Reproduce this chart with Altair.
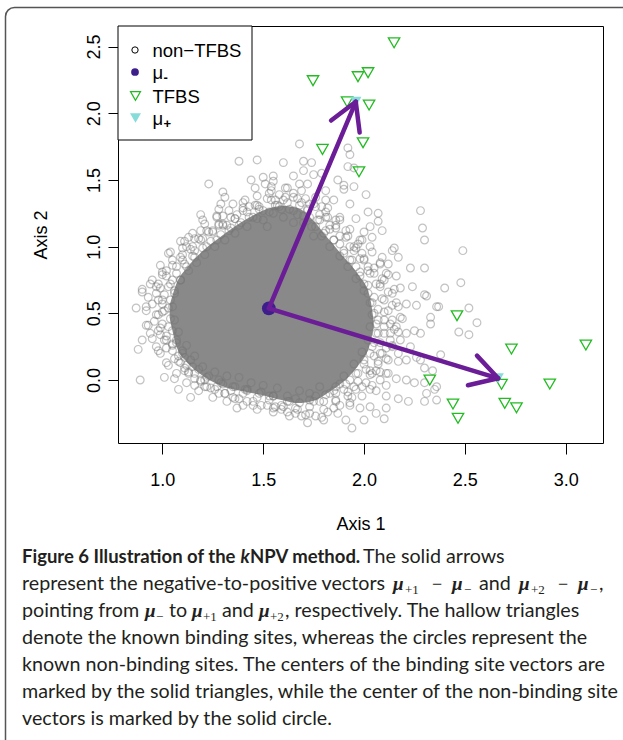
import math
import altair as alt
import pandas as pd

# ---------------- data ----------------
non_x = [1.38,1.47,1.23,1.44,1.50,1.55,1.51,1.46,1.30,1.31,1.29,1.35,1.41,1.28,1.19,1.20,1.27,1.30,1.28,1.32,1.36,1.19,1.23,1.13,1.11,1.18,1.03,1.09,1.12,1.16,1.07,1.02,1.00,0.94,0.90,0.98,0.97,1.05,1.40,1.43,1.47,1.53,1.54,
         0.90,0.87,0.92,0.97,0.92,0.94,0.88,0.90,0.99,0.97,1.03,1.08,0.89,1.01,1.06,1.08,1.14,1.16,1.21,1.26,1.31,1.36,1.37,1.45,1.56,1.13,1.11,1.00,0.98,1.01,1.05,1.11,1.19,1.28,1.35,1.41,1.48,1.53,
         1.68,1.92,1.93,1.60,1.70,1.74,1.70,1.75,1.79,1.92,1.95,1.65,1.68,1.72,1.87,1.90,1.95,1.90,2.01,1.55,1.61,1.81,1.81,1.85,1.93,2.02,2.07,2.28,2.29,2.30,1.96,2.07,2.09,2.03,2.04,2.00,2.15,2.14,2.17,2.09,2.08,2.12,2.23,2.30,2.16,2.24,2.08,2.18,2.30,2.31,2.03,1.98,1.91,1.86,1.81,1.75,1.60,1.65,1.57,2.11,2.03,2.00,1.95,
         2.36,2.21,2.26,2.19,2.33,2.33,2.25,2.28,2.21,2.16,2.10,2.17,2.21,2.30,2.28,2.34,2.35,2.31,2.30,2.36,2.16,2.21,2.25,2.11,2.17,2.22,2.11,2.11,2.03,2.06,2.10,2.00,1.91,1.94,1.79,1.71,1.67,1.60,1.85,1.98,1.93,1.86,1.78,1.73,1.63,2.03,2.08,2.11,2.06,2.12,2.03,1.96,1.90,1.83,1.93,2.14,2.08,2.18,2.13,2.23,2.26,
         2.40,2.52,2.56,2.47,2.52,2.37,2.38,2.30,2.36,2.49,2.48,
         1.50,1.55,1.60,1.63,1.67,1.70,1.73,1.76,1.78,1.80,1.83,1.85,1.88,1.90,1.93,1.96,1.98,2.00,2.02,2.04,2.05,2.06,2.07,2.05,2.03,2.00,1.97,1.52,1.58,1.65,1.72,1.75,1.82,1.86,1.92,1.95,1.99,2.02,2.05,2.08,2.10,2.12,2.10,2.13,2.09,2.07,2.04,2.01,1.95,1.88,1.85,1.78,1.73,1.68,1.62,1.57,1.50,1.44,1.38,1.32,1.26,1.20,1.16,1.12,1.08,1.06,1.05,1.06,1.09,1.12,1.16,1.22,1.27,1.33,1.38,1.43,1.48,1.37,1.30,1.25,1.19,1.14,1.10,1.03,1.01,1.03,1.07,1.10,1.15,1.22,1.30,1.42,1.55,1.66,1.76,1.92,2.06,2.12,2.17,2.15,2.17,2.14,2.10,1.97,1.88,1.79,1.69,1.56,
         1.04,1.06,1.09,1.13,1.17,1.21,1.26,1.31,1.36,1.42,1.47,1.53,1.59,1.65,1.70,1.74,1.79,1.83,1.88,1.92,1.96,2.00,2.03,2.04,2.03,2.02,1.99,1.95,1.90,1.86,1.81,1.75,1.68,1.62,1.55,1.49,1.42,1.36,1.29,1.23,1.18,1.14,1.10,1.07,1.05,1.04,1.03,
         0.98,0.99,1.02,1.05,1.10,1.15,1.20,1.25,1.30,1.36,1.42,1.48,1.54,1.61,1.67,1.73,1.78,1.83,1.88,1.93,1.98,2.02,2.06,2.09,2.10,2.10,2.08,2.05,2.01,1.97,1.92,1.86,1.80,1.73,1.66,1.59,1.52,1.45,1.38,1.31,1.24,1.19,1.13,1.09,1.05,1.02,0.99,0.98,
         1.01,1.04,1.07,1.11,1.15,1.20,1.24,1.29,1.34,1.39,1.45,1.50,1.56,1.62,1.68,1.72,1.77,1.81,1.85,1.90,1.94,1.98,2.02,2.05,2.07,2.07,2.06,2.04,2.00,1.96,1.91,1.86,1.80,1.73,1.66,1.59,1.53,1.47,1.40,1.34,1.27,1.21,1.16,1.12,1.08,1.05,1.02,1.00,1.00,1.00,
         0.93,0.95,0.99,1.04,1.09,1.15,1.21,1.27,1.33,1.40,1.47,1.54,1.62,1.69,1.76,1.82,1.88,1.93,1.99,2.04,2.08,2.12,2.15,2.16,2.18,2.17,2.14,2.11,2.08,2.04,1.99,1.93,1.87,1.80,1.72,1.63,1.55,1.47,1.40,1.32,1.25,1.18,1.12,1.07,1.02,0.98,0.95,0.93,0.92,
         0.95,0.97,1.00,1.05,1.10,1.16,1.22,1.28,1.34,1.40,1.46,1.52,1.58,1.65,1.71,1.76,1.81,1.86,1.91,1.96,2.00,2.05,2.09,2.12,2.14,2.14,2.13,2.11,2.07,2.03,1.99,1.94,1.88,1.82,1.76,1.69,1.62,1.55,1.49,1.42,1.35,1.28,1.22,1.16,1.11,1.06,1.02,0.99,0.96]
non_y = [1.64,1.65,1.47,1.50,1.52,1.53,1.47,1.44,1.41,1.37,1.32,1.32,1.35,1.28,1.24,1.20,1.22,1.23,1.16,1.16,1.21,1.12,1.11,1.07,1.04,1.06,0.95,0.92,1.00,0.97,0.85,0.82,0.79,0.72,0.68,0.72,0.65,0.75,1.29,1.30,1.31,1.40,1.45,
         0.66,0.54,0.55,0.49,0.41,0.35,0.23,0.30,0.20,0.25,0.11,0.14,0.00,0.02,0.01,-0.07,-0.13,-0.04,-0.05,-0.07,-0.10,-0.14,-0.21,-0.19,-0.20,0.05,0.09,0.60,0.37,0.30,0.27,0.17,0.00,0.00,-0.05,-0.07,-0.10,-0.12,
         1.77,1.74,1.69,1.63,1.64,1.63,1.57,1.54,1.55,1.60,1.59,1.53,1.47,1.47,1.50,1.46,1.45,1.43,1.39,1.49,1.44,1.42,1.35,1.35,1.32,1.26,1.25,1.27,1.14,1.05,1.21,1.19,1.12,1.15,1.07,1.11,0.99,0.97,0.92,0.92,0.87,0.87,0.84,0.84,0.78,0.70,0.72,0.69,0.64,0.63,1.00,1.05,1.12,1.20,1.26,1.32,1.35,1.37,1.31,0.80,0.80,0.90,0.97,
         0.55,0.57,0.56,0.46,0.47,0.42,0.37,0.35,0.35,0.40,0.35,0.14,0.15,0.09,0.15,0.07,-0.07,-0.10,-0.16,-0.15,0.01,0.00,-0.02,-0.04,-0.14,-0.16,-0.12,-0.21,-0.20,-0.25,-0.29,-0.30,-0.30,-0.36,-0.28,-0.26,-0.22,-0.20,-0.21,-0.21,-0.17,-0.15,-0.16,-0.15,-0.16,-0.07,0.00,0.05,0.07,0.15,0.07,-0.07,-0.07,-0.10,0.00,0.25,0.20,0.30,0.42,0.25,0.17,
         0.69,0.54,0.43,0.36,0.34,0.55,0.19,-0.02,-0.05,0.97,0.73,
         1.20,1.25,1.22,1.28,1.24,1.18,1.22,1.15,1.20,1.10,1.13,1.05,1.02,0.95,0.90,0.85,0.78,0.72,0.65,0.58,0.50,0.42,0.35,0.28,0.20,0.12,0.05,1.15,1.30,1.18,1.28,1.08,1.22,1.16,1.08,1.00,0.95,0.85,0.80,0.70,0.60,0.52,0.45,0.30,0.20,0.12,0.05,-0.02,-0.05,-0.03,-0.08,-0.05,-0.10,-0.08,-0.12,-0.06,-0.04,-0.02,0.02,0.03,0.06,0.10,0.18,0.26,0.36,0.45,0.55,0.65,0.75,0.85,0.92,1.00,1.05,1.12,1.16,1.22,1.28,1.24,1.17,1.12,1.05,0.98,0.90,0.70,0.52,0.40,0.28,0.20,0.10,0.02,-0.03,-0.08,-0.12,-0.14,-0.12,-0.12,-0.08,0.05,0.20,0.38,0.55,0.65,0.75,1.02,1.20,1.30,1.33,1.35,
         0.60,0.67,0.75,0.82,0.88,0.94,1.00,1.05,1.10,1.15,1.21,1.26,1.28,1.27,1.23,1.15,1.08,1.00,0.93,0.85,0.76,0.67,0.58,0.49,0.40,0.30,0.21,0.12,0.03,-0.05,-0.11,-0.16,-0.17,-0.16,-0.12,-0.09,-0.07,-0.05,-0.02,0.03,0.08,0.15,0.22,0.30,0.37,0.46,0.54,
         0.60,0.69,0.78,0.86,0.94,1.00,1.06,1.11,1.16,1.21,1.26,1.30,1.35,1.37,1.36,1.32,1.24,1.16,1.08,1.00,0.91,0.82,0.72,0.61,0.51,0.40,0.28,0.18,0.08,-0.01,-0.09,-0.16,-0.22,-0.25,-0.25,-0.22,-0.19,-0.16,-0.14,-0.10,-0.06,-0.01,0.06,0.13,0.22,0.30,0.39,0.49,
         0.64,0.72,0.80,0.87,0.93,0.99,1.04,1.09,1.14,1.18,1.22,1.27,1.31,1.33,1.31,1.27,1.20,1.12,1.05,0.97,0.90,0.81,0.71,0.62,0.53,0.45,0.35,0.25,0.15,0.05,-0.03,-0.10,-0.16,-0.20,-0.21,-0.19,-0.15,-0.13,-0.10,-0.08,-0.05,0.00,0.05,0.11,0.18,0.26,0.33,0.42,0.51,0.57,
         0.62,0.75,0.86,0.96,1.04,1.10,1.17,1.23,1.27,1.33,1.38,1.42,1.44,1.42,1.37,1.29,1.22,1.13,1.05,0.96,0.88,0.79,0.68,0.58,0.47,0.36,0.26,0.16,0.06,-0.04,-0.12,-0.19,-0.25,-0.30,-0.32,-0.27,-0.24,-0.22,-0.19,-0.16,-0.13,-0.08,-0.02,0.05,0.13,0.22,0.31,0.41,0.52,
         0.57,0.70,0.81,0.90,0.99,1.06,1.12,1.17,1.22,1.27,1.31,1.36,1.39,1.40,1.36,1.30,1.22,1.14,1.07,0.99,0.91,0.84,0.76,0.66,0.56,0.45,0.35,0.24,0.14,0.04,-0.05,-0.13,-0.19,-0.24,-0.27,-0.27,-0.24,-0.21,-0.19,-0.16,-0.13,-0.10,-0.05,0.01,0.07,0.16,0.24,0.34,0.44]

# dense, fully overlapped core of the non-TFBS cloud (outline)
core_x = [1.036, 1.071, 1.121, 1.195, 1.294, 1.393, 1.493, 1.592, 1.671, 1.746, 1.820, 1.895, 1.969, 2.028, 2.048]
core_lo = [0.47, 0.247, 0.135, 0.037, -0.045, -0.082, -0.112, -0.150, -0.172, -0.157, -0.097, -0.015, 0.105, 0.262, 0.40]
core_hi = [0.56, 0.727, 0.840, 0.960, 1.079, 1.184, 1.267, 1.304, 1.289, 1.199, 1.064, 0.930, 0.795, 0.630, 0.44]

tfbs_x = [2.149, 1.747, 1.970, 2.020, 1.916, 2.025, 1.995, 1.794, 1.975,
          2.461, 2.731, 3.100, 2.326, 2.682, 2.921, 2.441, 2.698, 2.756, 2.466]
tfbs_y = [2.528, 2.244, 2.274, 2.304, 2.086, 2.061, 1.779, 1.729, 1.561,
          0.482, 0.232, 0.262, 0.000, -0.032, -0.030, -0.180, -0.175, -0.208, -0.287]

mu_plus_x = [1.959, 2.665]
mu_plus_y = [2.086, 0.013]
mu_minus_x = [1.528]
mu_minus_y = [0.537]

x_ticks = [1.0, 1.5, 2.0, 2.5, 3.0]
y_ticks = [0.0, 0.5, 1.0, 1.5, 2.0, 2.5]
legend_labels = ["non\u2212TFBS", "\u03bc", "TFBS", "\u03bc"]
legend_subs = ["", "-", "", "+"]

# ---------------- layout ----------------
PAD_L, PAD_T = 118, 26
W, H = 485, 417
X_DOM = [0.780, 3.185]
Y_DOM = [-0.472, 2.654]
SX = W / (X_DOM[1] - X_DOM[0])
SY = H / (Y_DOM[1] - Y_DOM[0])

xs = alt.Scale(domain=X_DOM, nice=False, zero=False)
ys = alt.Scale(domain=Y_DOM, nice=False, zero=False)

AXF = "Liberation Sans"
xaxis = alt.Axis(values=x_ticks, format=".1f", domain=False, grid=False, tickSize=11,
                 tickColor="black", labelFont=AXF, labelFontSize=18, labelColor="black",
                 labelPadding=17, labelBaseline="top", labelFlush=False, labelOverlap=False,
                 title="Axis 1", titleFont=AXF, titleFontSize=18, titleFontWeight="normal",
                 titleColor="black", titleY=86, titleBaseline="alphabetic")
yaxis = alt.Axis(values=y_ticks, format=".1f", domain=False, grid=False, tickSize=10,
                 tickColor="black", labelFont=AXF, labelFontSize=18, labelColor="black",
                 labelAngle=270, labelAlign="center", labelBaseline="bottom", labelPadding=5,
                 labelFlush=False, labelOverlap=False,
                 title="Axis 2", titleFont=AXF, titleFontSize=18, titleFontWeight="normal",
                 titleColor="black", titleX=-72, titleAngle=270, titleBaseline="alphabetic")

def X(f="x"):
    return alt.X(f + ":Q", scale=xs, axis=xaxis)

def Y(f="y"):
    return alt.Y(f + ":Q", scale=ys, axis=yaxis)

one = pd.DataFrame({"a": [0]})

df_non = pd.DataFrame({"x": non_x, "y": non_y})
df_core = pd.DataFrame({"x": core_x, "lo": core_lo, "hi": core_hi})
df_tfbs = pd.DataFrame({"x": tfbs_x, "y": tfbs_y})
df_mup = pd.DataFrame({"x": mu_plus_x, "y": mu_plus_y})
df_mum = pd.DataFrame({"x": mu_minus_x, "y": mu_minus_y})

# arrows (shaft + open head) derived from the centres
HEAD = 31
ANG = math.radians(30)
segs = []
x0, y0 = mu_minus_x[0], mu_minus_y[0]
for x1, y1 in zip(mu_plus_x, mu_plus_y):
    segs.append((x0, y0, x1, y1))
    th = math.atan2((y1 - y0) * SY, (x1 - x0) * SX)
    for s in (1, -1):
        a = th + s * ANG
        segs.append((x1, y1, x1 - HEAD * math.cos(a) / SX, y1 - HEAD * math.sin(a) / SY))
df_arr = pd.DataFrame(segs, columns=["x", "y", "x2", "y2"])

frame = alt.Chart(one).mark_rect(fill="white", fillOpacity=0, stroke="#555555", strokeWidth=1.5,
                                 cornerRadius=9).encode(
    x=alt.value(5.5 - PAD_L), x2=alt.value(760), y=alt.value(7.5 - PAD_T), y2=alt.value(900))

core = alt.Chart(df_core).mark_area(color="#898989", interpolate="monotone").encode(
    x=X(), y=Y("lo"), y2="hi:Q")

gray = alt.Chart(df_non).mark_point(shape="circle", filled=False, size=60, strokeWidth=1.2,
                                    color="#747474", strokeOpacity=0.62).encode(x=X(), y=Y())

tfbs = alt.Chart(df_tfbs).mark_point(shape="triangle-down", filled=False, size=130,
                                     strokeWidth=1.3, color="#22bb22", opacity=1).encode(x=X(), y=Y())

mup = alt.Chart(df_mup).mark_point(shape="triangle-down", filled=True, size=130,
                                   color="#86dcd8", opacity=1).encode(x=X(), y=Y())

mum = alt.Chart(df_mum).mark_circle(size=190, color="#3d1f8c", opacity=1).encode(x=X(), y=Y())

arrows = alt.Chart(df_arr).mark_rule(color="#6a1d96", strokeWidth=4.5, strokeCap="round").encode(
    x=X(), y=Y(), x2="x2:Q", y2="y2:Q")

layers = [frame, core, gray, tfbs, mup, mum, arrows]

# ---------------- legend (drawn like R's legend box) ----------------
layers.append(alt.Chart(one).mark_rect(fill="white", stroke="black", strokeWidth=1).encode(
    x=alt.value(0), x2=alt.value(134), y=alt.value(0), y2=alt.value(114)))
LROW = [24, 46, 70, 92]
LSYM_X = 17
layers.append(alt.Chart(one).mark_point(shape="circle", filled=False, size=40, color="black",
                                        strokeWidth=1, opacity=1).encode(
    x=alt.value(LSYM_X), y=alt.value(LROW[0])))
layers.append(alt.Chart(one).mark_circle(size=60, color="#3d1f8c", opacity=1).encode(
    x=alt.value(LSYM_X), y=alt.value(LROW[1])))
layers.append(alt.Chart(one).mark_point(shape="triangle-down", filled=False, size=100,
                                        color="#22bb22", strokeWidth=1.2, opacity=1).encode(
    x=alt.value(LSYM_X + 0.5), y=alt.value(LROW[2])))
layers.append(alt.Chart(one).mark_point(shape="triangle-down", filled=True, size=120,
                                        color="#86dcd8", opacity=1).encode(
    x=alt.value(LSYM_X + 0.5), y=alt.value(LROW[3])))
for i, (lab, sub) in enumerate(zip(legend_labels, legend_subs)):
    layers.append(alt.Chart(one).mark_text(text=lab, align="left", baseline="alphabetic",
                                           font=AXF, fontSize=18.5, color="black").encode(
        x=alt.value(34.5), y=alt.value(LROW[i] + 6.5)))
    if sub:
        layers.append(alt.Chart(one).mark_text(text=sub, align="left", baseline="alphabetic",
                                               font=AXF, fontSize=13, fontWeight="bold",
                                               color="black").encode(
            x=alt.value(45.5), y=alt.value(LROW[i] + 9.5)))

# ---------------- caption ----------------
CF = "Lato"
MF = "Liberation Serif"
BASE = [563, 590, 617, 644, 671, 698, 725]
cap = [
    (0, 22, "Figure 6 Illustration of the", "b"), (0, 240.5, "k", "bi"), (0, 250, "NPV method.", "b"),
    (0, 363, "The solid arrows", "r"),
    (1, 22, "represent the negative-to-positive vectors", "r"),
    (1, 393, "\u03bc", "m"), (1, 405, "+1", "s"), (1, 432, "\u2212", "o"),
    (1, 452, "\u03bc", "m"), (1, 464, "\u2212", "s"), (1, 479, "and", "r"),
    (1, 519, "\u03bc", "m"), (1, 531, "+2", "s"), (1, 558, "\u2212", "o"),
    (1, 578, "\u03bc", "m"), (1, 590, "\u2212", "s"), (1, 599, ",", "r"),
    (2, 22, "pointing from", "r"), (2, 145, "\u03bc", "m"), (2, 156, "\u2212", "s"),
    (2, 169, "to", "r"), (2, 192, "\u03bc", "m"), (2, 203, "+1", "s"), (2, 222, "and", "r"),
    (2, 259, "\u03bc", "m"), (2, 270, "+2", "s"),
    (2, 285, ", respectively. The hallow triangles", "r"),
    (3, 22, "denote the known binding sites, whereas the circles represent the", "r"),
    (4, 22, "known non-binding sites. The centers of the binding site vectors are", "r"),
    (5, 22, "marked by the solid triangles, while the center of the non-binding site", "r"),
    (6, 22, "vectors is marked by the solid circle.", "r"),
]
STY = {
    "r": dict(font=CF, fontSize=19.7, fontWeight="normal", fontStyle="normal", dy=0),
    "b": dict(font=CF, fontSize=18.5, fontWeight="bold", fontStyle="normal", dy=0),
    "bi": dict(font=CF, fontSize=18.5, fontWeight="bold", fontStyle="italic", dy=0),
    "m": dict(font=MF, fontSize=19, fontWeight="bold", fontStyle="italic", dy=0),
    "s": dict(font=MF, fontSize=13, fontWeight="normal", fontStyle="normal", dy=4),
    "o": dict(font=MF, fontSize=18, fontWeight="normal", fontStyle="normal", dy=0),
}
for line, xx, txt, st in cap:
    s = STY[st]
    layers.append(alt.Chart(one).mark_text(text=txt, align="left", baseline="alphabetic",
                                           font=s["font"], fontSize=s["fontSize"],
                                           fontWeight=s["fontWeight"], fontStyle=s["fontStyle"],
                                           color="#231f20").encode(
        x=alt.value(xx - PAD_L), y=alt.value(BASE[line] + s["dy"] - PAD_T)))

chart = alt.layer(*layers).properties(
    width=W, height=H,
    padding={"left": PAD_L, "top": PAD_T, "right": 623 - PAD_L - W, "bottom": 740 - PAD_T - H},
    autosize=alt.AutoSizeParams(type="none"),
    background="white",
).configure_view(stroke="black", strokeWidth=1)

chart.save("out.html", embed_options={"renderer": "svg", "actions": False})
